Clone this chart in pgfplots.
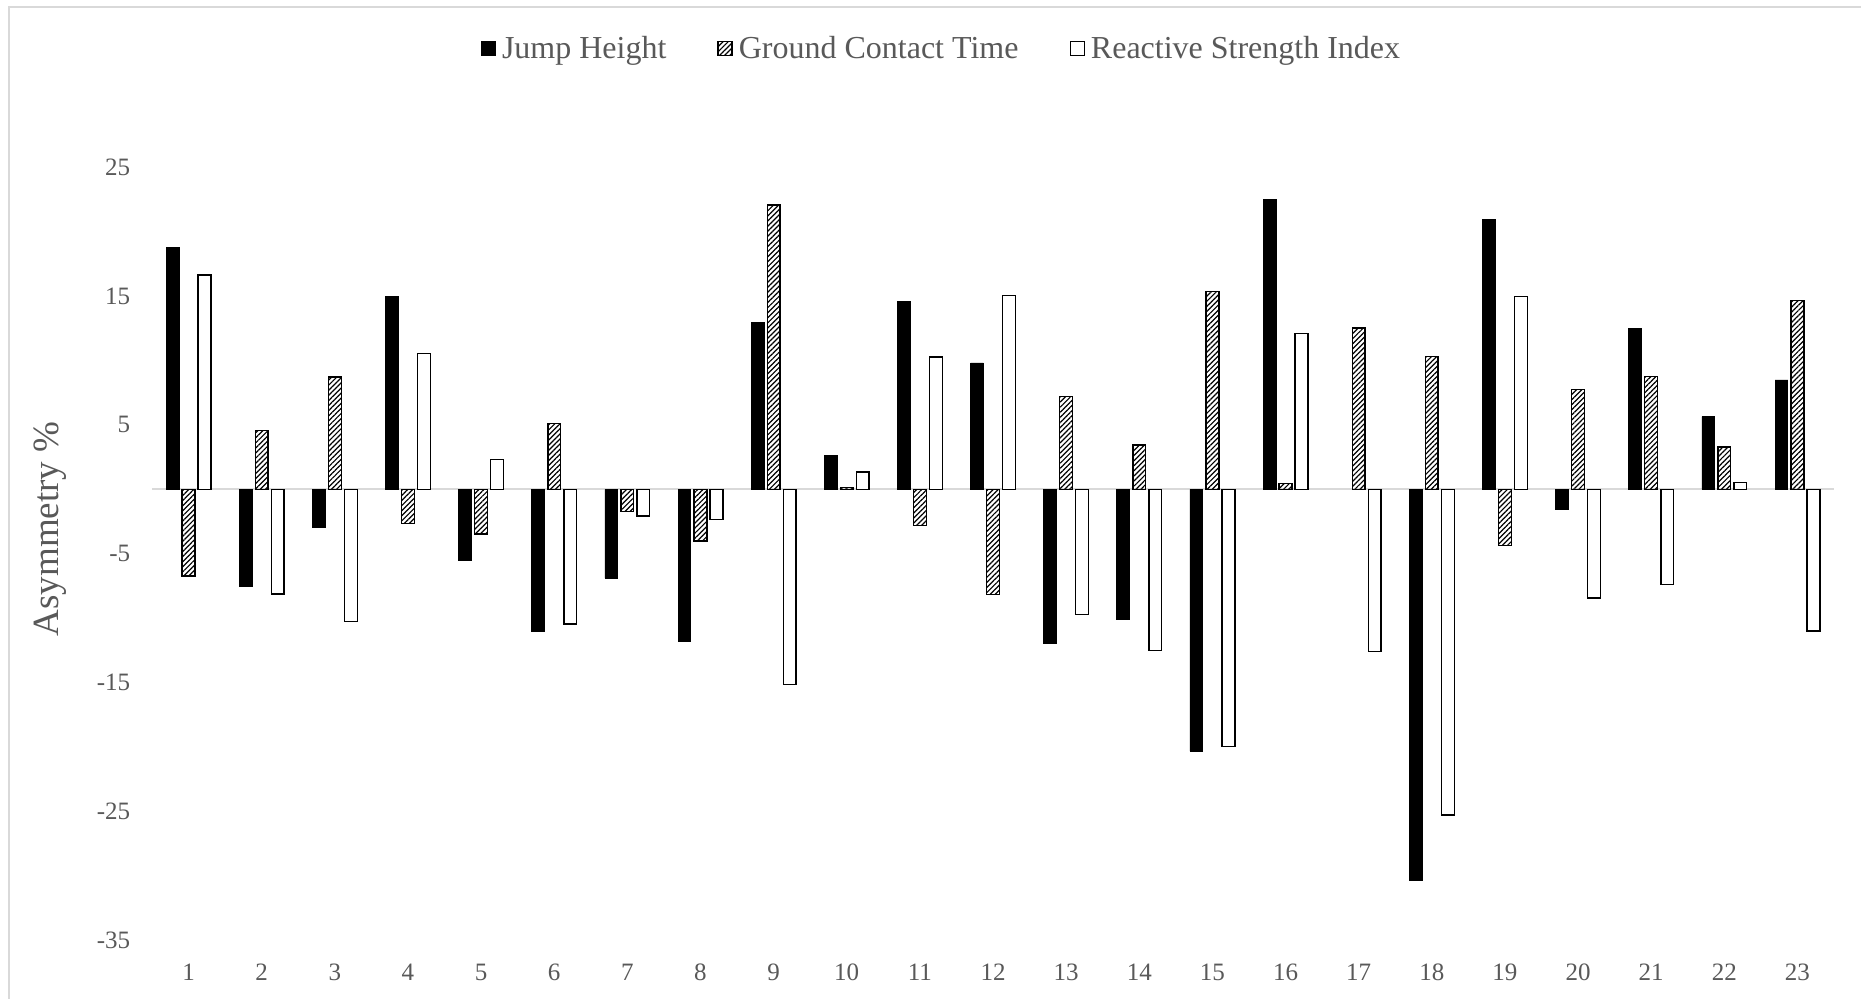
\documentclass[border=0pt]{standalone}
\usepackage{fontspec}
\setmainfont{Liberation Serif}
\usepackage{pgfplots}
\pgfplotsset{compat=1.18}
\usetikzlibrary{patterns.meta}
\definecolor{txtgray}{HTML}{595959}
\definecolor{linegray}{HTML}{D9D9D9}
\pgfplotsset{legsq/.style={legend image code/.code={\draw[##1] (0pt,-3.5pt) rectangle (7pt,3.5pt);}}}
\begin{document}
\begin{tikzpicture}
\useasboundingbox (0,0) rectangle (930.5pt,499.5pt);
\fill[white] (0,0) rectangle (930.5pt,499.5pt);
\draw[linegray, line width=1pt] (4.5pt,0pt) -- (4.5pt,496pt) -- (930.5pt,496pt);
\begin{axis}[
  at={(76pt,29.5pt)}, anchor=south west,
  scale only axis, width=841pt, height=386.3pt,
  xmin=0.5, xmax=23.5, ymin=-35, ymax=25,
  ybar, bar width=0.175,
  axis line style={draw=none}, tick style={draw=none},
  xtick={1,2,3,4,5,6,7,8,9,10,11,12,13,14,15,16,17,18,19,20,21,22,23},
  xticklabels={1,2,3,4,5,6,7,8,9,10,11,12,13,14,15,16,17,18,19,20,21,22,23},
  ytick={-35,-25,-15,-5,5,15,25},
  yticklabels={-35,-25,-15,-5,5,15,25},
  extra y ticks={0}, extra y tick labels={},
  extra y tick style={grid=major, major grid style={draw=linegray, line width=1pt}},
  tick label style={font=\fontsize{12.5}{15}\selectfont, text=txtgray},
  xticklabel style={anchor=center, yshift=-11.8pt},
  yticklabel style={anchor=east, inner sep=0pt, xshift=-10.75pt},
  ylabel={Asymmetry \%},
  ylabel style={at={(axis description cs:-0.0606,0.532)}, anchor=center, font=\fontsize{18.5}{22}\selectfont, text=txtgray},
  legend style={at={(axis description cs:0.4689,1.1536)}, anchor=center, draw=none, fill=none,
    legend columns=-1, font=\fontsize{16}{19}\selectfont, text=txtgray, inner sep=0pt,
    nodes={inner sep=0pt, text=txtgray},
    /tikz/every odd column/.append style={column sep=3pt},
    /tikz/every even column/.append style={column sep=25.5pt}},
]
\addplot[fill=black, draw=black, bar shift=-0.219, legsq] coordinates {
(1,18.76) (2,-7.51) (3,-2.93) (4,15.01) (5,-5.49) (6,-11.03) (7,-6.89) (8,-11.84)
(9,12.95) (10,2.64) (11,14.6) (12,9.81) (13,-11.93) (14,-10.09) (15,-20.34) (16,22.54)
(18,-30.4) (19,20.93) (20,-1.56) (21,12.52) (22,5.64) (23,8.49)};
\addplot[draw=black, line width=0.7pt, pattern={Lines[angle=45,distance=1.8pt,line width=0.6pt]}, bar shift=0, legsq] coordinates {
(1,-6.73) (2,4.58) (3,8.72) (4,-2.67) (5,-3.47) (6,5.09) (7,-1.71) (8,-4.0)
(9,22.07) (10,0.15) (11,-2.81) (12,-8.16) (13,7.23) (14,3.43) (15,15.34) (16,0.43)
(17,12.52) (18,10.31) (19,-4.38) (20,7.75) (21,8.78) (22,3.28) (23,14.66)};
\addplot[fill=white, draw=black, line width=0.7pt, bar shift=0.219, legsq] coordinates {
(1,16.64) (2,-8.13) (3,-10.28) (4,10.53) (5,2.3) (6,-10.46) (7,-2.07) (8,-2.35)
(9,-15.16) (10,1.34) (11,10.27) (12,15.07) (13,-9.72) (14,-12.5) (15,-19.98) (16,12.1)
(17,-12.6) (18,-25.3) (19,14.95) (20,-8.44) (21,-7.41) (22,0.52) (23,-11.0)};
\legend{Jump Height, Ground Contact Time, Reactive Strength Index}
\end{axis}
\end{tikzpicture}
\end{document}
